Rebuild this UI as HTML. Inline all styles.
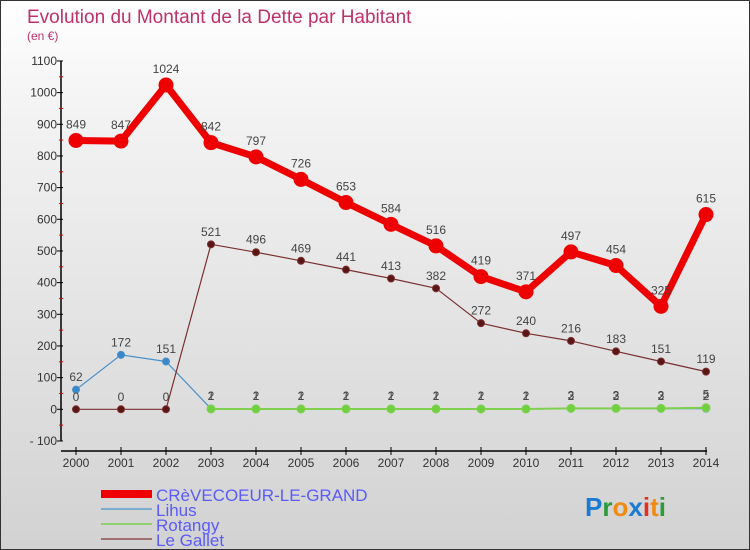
<!DOCTYPE html>
<html><head><meta charset="utf-8"><style>
body{margin:0}
#c{width:748px;height:548px;border:1px solid #333;position:relative;overflow:hidden;background:linear-gradient(#fff,#f3f3f3 20%,#d2d2d2);font-family:"Liberation Sans",sans-serif}
</style></head><body>
<div id="c">
<svg id="s" width="748" height="548" style="position:absolute;left:0;top:0" font-family="Liberation Sans, sans-serif">
<text x="26" y="22" font-size="19" fill="#c0306a" font-weight="300">Evolution du Montant de la Dette par Habitant</text>
<text x="26" y="39" font-size="12" fill="#c0306a">(en €)</text>
<g id="axes"></g><g id="series"></g>
<text x="584" y="515" font-size="26" font-weight="bold"><tspan fill="#1a7ad4">P</tspan><tspan fill="#2a9a3a">r</tspan><tspan fill="#f08a10">o</tspan><tspan fill="#1a7ad4">x</tspan><tspan fill="#e03020">i</tspan><tspan fill="#f08a10">t</tspan><tspan fill="#2a9a3a">i</tspan></text>
</svg>
</div>
<script>
const years=[2000,2001,2002,2003,2004,2005,2006,2007,2008,2009,2010,2011,2012,2013,2014];
const yTicks=[-100,0,100,200,300,400,500,600,700,800,900,1000,1100];
const crevecoeur=[849,847,1024,842,797,726,653,584,516,419,371,497,454,325,615];
const lihus=[62,172,151,2,2,2,2,2,2,2,2,2,2,2,2];
const rotangy=[null,null,null,1,1,1,1,1,1,1,1,3,3,3,5];
const legallet=[0,0,0,521,496,469,441,413,382,272,240,216,183,151,119];
const NS="http://www.w3.org/2000/svg";
const xs=i=>75+i*45;
const ys=v=>408.3-v*0.31667;
function mk(tag,at,p){const e=document.createElementNS(NS,tag);for(const k in at)e.setAttribute(k,at[k]);p.appendChild(e);return e;}
const ax=document.getElementById('axes'),se=document.getElementById('series');
let a=mk('line',{x1:60,y1:ys(1100),x2:60,y2:ys(-100),stroke:'#000','stroke-width':1.5},ax);

yTicks.forEach((t,k)=>{mk('line',{x1:56,y1:ys(t),x2:62,y2:ys(t),stroke:'#000'},ax);
 if(k<yTicks.length-1)mk('line',{x1:58,y1:ys(t+50),x2:62,y2:ys(t+50),stroke:'#e00'},ax);
 const tx=mk('text',{x:56,y:ys(t)+4,'font-size':12,'text-anchor':'end',fill:'#333'},ax);tx.textContent=t<0?'- 100':t;
 });
let b=mk('line',{x1:60,y1:450,x2:706,y2:450,stroke:'#000','stroke-width':1.5},ax);

years.forEach((y,i)=>{mk('line',{x1:xs(i),y1:446,x2:xs(i),y2:454,stroke:'#000'},ax);
 const tx=mk('text',{x:xs(i),y:466,'font-size':12,'text-anchor':'middle',fill:'#333'},ax);tx.textContent=y;
 });
function series(data,color,w,r,dot,name,labels){
 const g=mk('g',{},se);
 const pts=[];data.forEach((v,i)=>{if(v!==null)pts.push(xs(i)+','+ys(v));});
 mk('polyline',{points:pts.join(' '),fill:'none',stroke:color,'stroke-width':w,'stroke-linejoin':'round'},g);
 data.forEach((v,i)=>{if(v===null)return;
  const c=mk('circle',{cx:xs(i),cy:ys(v),r:r,fill:dot,stroke:color,'stroke-width':1},g);
  
  if(labels){const t=mk('text',{x:xs(i),y:ys(v)-r-5,'font-size':12,'text-anchor':'middle',fill:'#444'},g);t.textContent=v;}});
}
series(lihus,'#4a90c8',1.2,3.5,'#3a88cc','lihus-series',true);
series(rotangy,'#80d050',2,4,'#70d040','rotangy-series',true);
series(legallet,'#7a3030',1.2,3.5,'#5a1515','le-gallet-series',true);
series(crevecoeur,'#ee0000',7,7,'#ee0000','crevecoeur-series',true);
const leg=[['CRèVECOEUR-LE-GRAND','#ee0000',8],['Lihus','#7aaed0',2],['Rotangy','#90d070',2],['Le Gallet','#a07070',2]];
leg.forEach((l,k)=>{const y=493+k*15;const g=mk('g',{},se);
 
 mk('line',{x1:100,y1:y,x2:151,y2:y,stroke:l[1],'stroke-width':l[2]},g);
 const t=mk('text',{x:155,y:y+7,'font-size':17,fill:'#5a5aff','font-weight':'300'},g);t.textContent=l[0];});
</script>
</body></html>
